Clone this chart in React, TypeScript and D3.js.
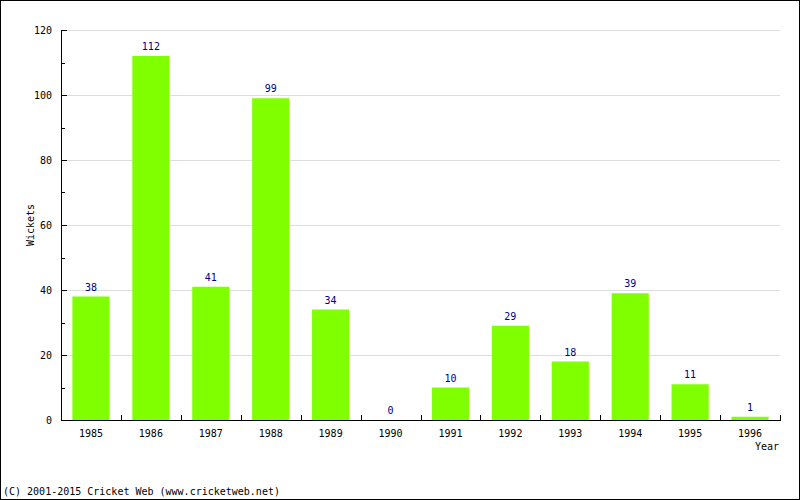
import React from "react";
import * as d3 from "d3";

const years = ["1985","1986","1987","1988","1989","1990","1991","1992","1993","1994","1995","1996"];
const wickets = [38,112,41,99,34,0,10,29,18,39,11,1];
const yTicks = [0,20,40,60,80,100,120];
const yMinorTicks = [10,30,50,70,90,110];

const W = 800, H = 500;
const M = { left: 61, right: 780, top: 30, bottom: 420 };
const FONT = "'DejaVu Sans Mono', monospace";

export default function App() {
  const x = d3.scaleBand<string>().domain(years).range([M.left, M.right]).paddingInner(0).paddingOuter(0);
  const y = d3.scaleLinear().domain([0, 120]).range([M.bottom, M.top]);
  const bw = x.bandwidth();
  const barW = bw * 0.62;
  return (
    <svg width={W} height={H} style={{ position: "absolute", left: 0, top: 0, background: "#fff" }} fontFamily={FONT}>
      <rect x={0.5} y={0.5} width={W - 1} height={H - 1} fill="#fff" stroke="#000" strokeWidth={1} />
      {yTicks.map(t => (
        <line key={"g" + t} x1={M.left} x2={M.right} y1={Math.round(y(t)) + 0.5} y2={Math.round(y(t)) + 0.5} stroke="#dddddd" />
      ))}
      {years.map((yr, i) => {
        const v = wickets[i];
        const bx = (x(yr) as number) + (bw - barW) / 2;
        return (
          <g key={yr}>
            <rect x={bx} y={y(v)} width={barW} height={M.bottom - y(v)} fill="#80ff00" />
            <text x={bx + barW / 2} y={y(v) - 6} textAnchor="middle" fontSize={10} fill="#000080">{v}</text>
            <text x={bx + barW / 2} y={437} textAnchor="middle" fontSize={10} fill="#000">{yr}</text>
          </g>
        );
      })}
      <line x1={M.left + 0.5} x2={M.left + 0.5} y1={M.top} y2={M.bottom} stroke="#000" />
      <line x1={M.left} x2={M.right + 1} y1={M.bottom + 0.5} y2={M.bottom + 0.5} stroke="#000" />
      {yTicks.map(t => (
        <g key={"t" + t}>
          <line x1={M.left} x2={M.left + 6} y1={Math.round(y(t)) + 0.5} y2={Math.round(y(t)) + 0.5} stroke="#000" />
          <text x={52} y={y(t) + 4} textAnchor="end" fontSize={10} fill="#000">{t}</text>
        </g>
      ))}
      {yMinorTicks.map(t => (
        <line key={"m" + t} x1={M.left} x2={M.left + 4} y1={Math.round(y(t)) + 0.5} y2={Math.round(y(t)) + 0.5} stroke="#000" />
      ))}
      {years.map(yr => {
        const xe = Math.round((x(yr) as number) + bw) + 0.5;
        return <line key={"xt" + yr} x1={xe} x2={xe} y1={M.bottom - 5} y2={M.bottom} stroke="#000" />;
      })}
      <text x={779} y={450} textAnchor="end" fontSize={10} fill="#000">Year</text>
      <text transform="translate(34,225) rotate(-90)" textAnchor="middle" fontSize={10} fill="#000">Wickets</text>
      <text x={3} y={495} fontSize={10} fill="#000">(C) 2001-2015 Cricket Web (www.cricketweb.net)</text>
    </svg>
  );
}
